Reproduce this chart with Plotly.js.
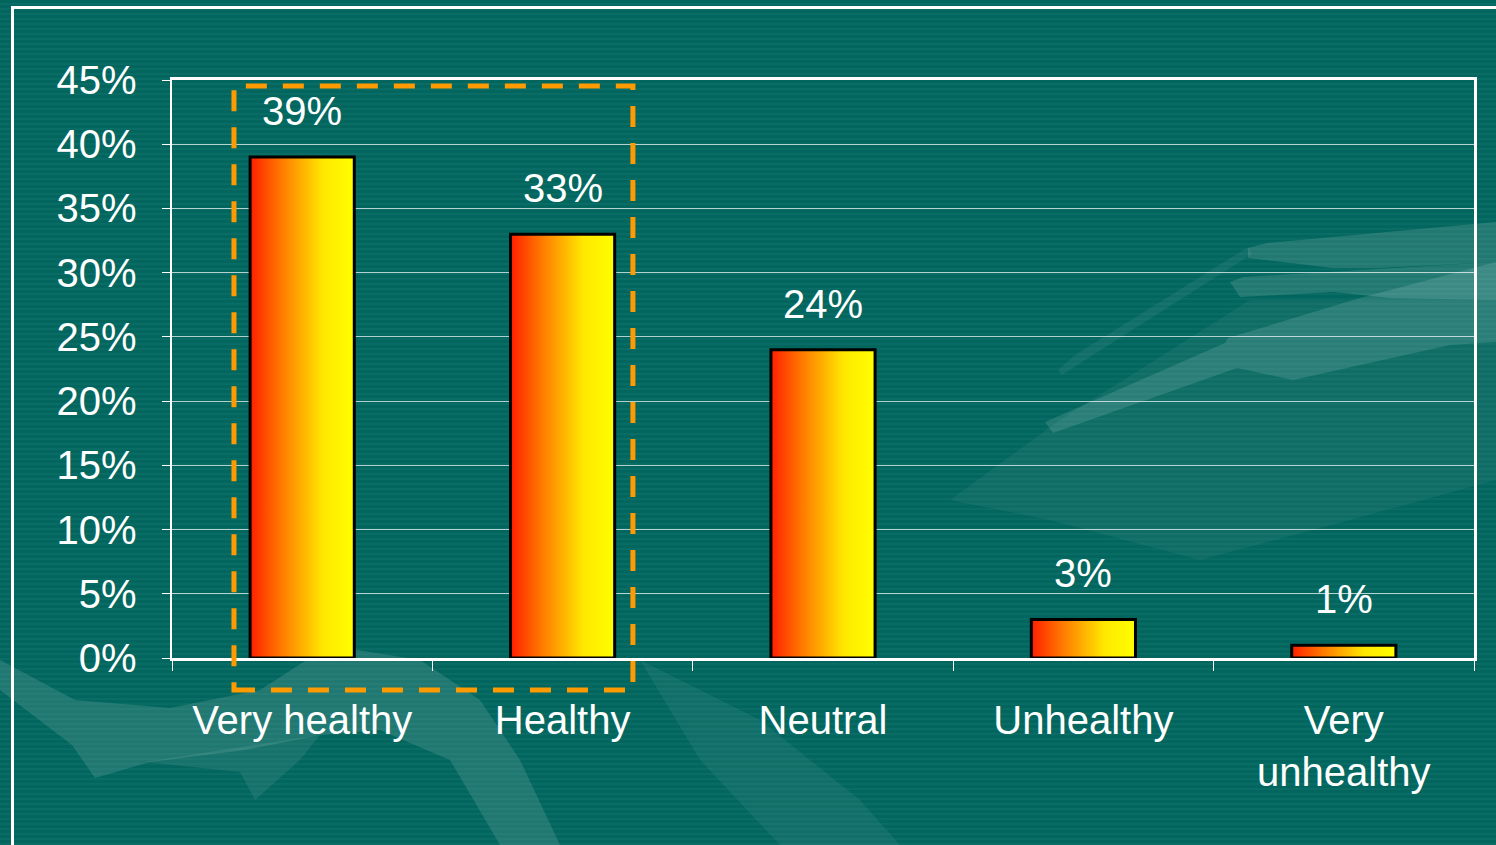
<!DOCTYPE html>
<html>
<head>
<meta charset="utf-8">
<script src="https://cdn.plot.ly/plotly-3.0.1.min.js"></script>
<style>
  html, body { margin: 0; padding: 0; }
  body {
    width: 1496px; height: 845px; overflow: hidden; position: relative;
    background: repeating-linear-gradient(180deg, #03665E 0px, #03665E 3px, #096C65 3px, #096C65 5px);
  }
  #deco { position: absolute; left: 0; top: 0; width: 1496px; height: 845px; }
  #chart { width: 1496px; height: 845px; position: absolute; left: 0; top: 0; }
  #frame {
    position: absolute; left: 11px; top: 6px; width: 2000px; height: 2000px;
    border-top: 3px solid #ffffff; border-left: 3px solid #ffffff; pointer-events: none;
  }
</style>
</head>
<body>
<svg id="deco" viewBox="0 0 1496 845" xmlns="http://www.w3.org/2000/svg">
  <g fill="#ffffff">
    <polygon opacity="0.13" points="1248,258 1248,248 1267,243 1496,222 1496,262 1380,268 1333,268"/>
    <polygon opacity="0.13" points="1230,282 1243,277 1496,262 1496,300 1390,298 1333,292 1240,297"/>
    <polygon opacity="0.12" points="1045,422 1225,343 1228,338 1360,298 1496,262 1496,342 1450,345 1293,380 1237,368 1053,433"/>
    <polygon opacity="0.06" points="1058,370 1075,355 1248,247 1252,254 1082,362 1062,375"/>
    <polygon opacity="0.05" points="950,500 1060,420 1250,300 1496,300 1496,480 1350,520 1200,560 1050,520"/>
    <polygon opacity="0.12" points="0,660 75,700 170,708 260,690 330,645 345,648 420,660 480,700 520,760 560,845 500,845 450,760 380,730 320,735 245,750 150,762 95,778 72,745 0,690"/>
    <polygon opacity="0.08" points="145,762 320,735 300,760 255,800 240,772"/>
    <polygon opacity="0.06" points="640,660 760,720 860,800 900,845 780,845 700,760"/>
  </g>
</svg>
<div id="chart"></div>
<div id="frame"></div>
<script>
// ---- data ----
const categories = ['Very healthy', 'Healthy', 'Neutral', 'Unhealthy', 'Very unhealthy'];
const tickLabels = ['Very healthy', 'Healthy', 'Neutral', 'Unhealthy', 'Very<br>unhealthy'];
const shares = [0.39, 0.33, 0.24, 0.03, 0.01];
const shareLabels = ['39%', '33%', '24%', '3%', '1%'];
const yTicks = [0, 0.05, 0.10, 0.15, 0.20, 0.25, 0.30, 0.35, 0.40, 0.45];

const FONT = 'Liberation Sans, Arial, Helvetica, sans-serif';

const trace = {
  type: 'bar',
  x: categories,
  y: shares,
  width: 0.4,
  marker: { color: '#FF9A00', line: { color: '#000000', width: 3 } },
  hoverinfo: 'skip'
};

const annotations = categories.map((c, i) => ({
  x: c, y: shares[i], xref: 'x', yref: 'y',
  text: shareLabels[i], showarrow: false,
  yanchor: 'middle', yshift: 46,
  font: { family: FONT, size: 40, color: '#ffffff' }
}));

const layout = {
  width: 1496, height: 845,
  margin: { l: 172, r: 22, t: 80, b: 187 },
  paper_bgcolor: 'rgba(0,0,0,0)',
  plot_bgcolor: 'rgba(0,0,0,0)',
  showlegend: false,
  font: { family: FONT, size: 40, color: '#ffffff' },
  xaxis: {
    type: 'category',
    tickvals: categories, ticktext: tickLabels,
    tickson: 'boundaries',
    ticks: 'outside', ticklen: 10, tickwidth: 1, tickcolor: '#ffffff',
    showline: true, linecolor: '#ffffff', linewidth: 3, mirror: true,
    showgrid: false, zeroline: false,
    ticklabelstandoff: 25,
    tickfont: { family: FONT, size: 40, color: '#ffffff' }
  },
  yaxis: {
    range: [0, 0.45],
    tickvals: yTicks, tickformat: '.0%',
    ticks: 'outside', ticklen: 8, tickwidth: 1, tickcolor: '#ffffff',
    showline: true, linecolor: '#ffffff', linewidth: 2.5, mirror: true,
    showgrid: true, gridcolor: 'rgba(255,255,255,0.7)', gridwidth: 1,
    zeroline: false,
    ticklabelstandoff: 17,
    tickfont: { family: FONT, size: 40, color: '#ffffff' }
  },
  annotations: annotations,
  shapes: [{
    type: 'rect', xref: 'x', yref: 'paper',
    x0: -0.262, x1: 1.27, y0: -0.0554, y1: 0.9896,
    line: { color: '#FF9A00', width: 5, dash: '21px,16px' },
    fillcolor: 'rgba(0,0,0,0)', layer: 'above'
  }]
};

Plotly.newPlot('chart', [trace], layout, { displayModeBar: false, staticPlot: true }).then(gd => {
  const svg = gd.querySelector('.main-svg');
  let defs = svg.querySelector('defs');
  const NS = 'http://www.w3.org/2000/svg';
  if (!defs) { defs = document.createElementNS(NS, 'defs'); svg.insertBefore(defs, svg.firstChild); }
  const grad = document.createElementNS(NS, 'linearGradient');
  grad.setAttribute('id', 'barGrad');
  grad.setAttribute('x1', '0'); grad.setAttribute('y1', '0');
  grad.setAttribute('x2', '1'); grad.setAttribute('y2', '0');
  [['0', '#FF1E00'], ['0.3', '#FF7A00'], ['0.7', '#FFE800'], ['1', '#FFFF00']].forEach(([o, c]) => {
    const s = document.createElementNS(NS, 'stop');
    s.setAttribute('offset', o); s.setAttribute('stop-color', c);
    grad.appendChild(s);
  });
  defs.appendChild(grad);
  gd.querySelectorAll('.bars .point path').forEach(p => { p.style.fill = 'url(#barGrad)'; });
});
</script>
</body>
</html>
